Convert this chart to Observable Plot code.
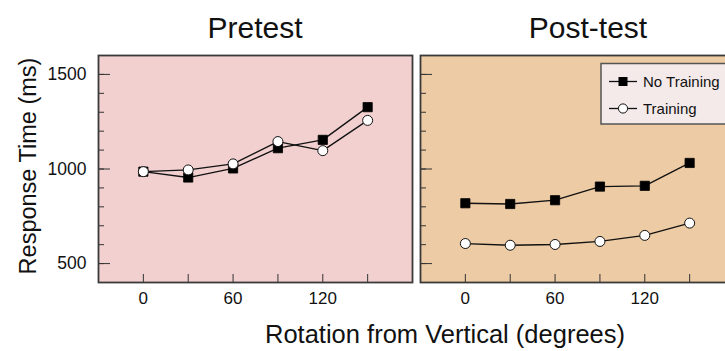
<!DOCTYPE html>
<html>
<head>
<meta charset="utf-8">
<script src="https://cdn.jsdelivr.net/npm/d3@7"></script>
<script src="https://cdn.jsdelivr.net/npm/@observablehq/plot@0.6"></script>
<style>
  html, body { margin: 0; padding: 0; background: #fff; overflow: hidden; }
  #wrap { position: relative; width: 725px; height: 351px; overflow: hidden; font-family: "Liberation Sans", Arial, Helvetica, sans-serif; }
  #wrap > * { position: absolute; top: 0; }
</style>
</head>
<body>
<div id="wrap"></div>
<script>
const angles = [0, 30, 60, 90, 120, 150];
const preNoTraining = [986, 955, 1003, 1110, 1154, 1327];
const preTraining = [986, 995, 1027, 1145, 1097, 1257];
const postNoTraining = [819, 815, 835, 907, 911, 1032];
const postTraining = [606, 597, 601, 617, 649, 714];
const panelTitles = ["Pretest", "Post-test"];
const seriesNames = ["No Training", "Training"];
const xTicks = [0, 30, 60, 90, 120, 150];
const xTickLabels = [0, 60, 120];
const yTickLabels = [500, 1000, 1500];
const yMinorTicks = d3.range(400, 1601, 100);
const xDomain = [-30, 180];
const yDomain = [400, 1600];
const xLabel = "Rotation from Vertical (degrees)";
const yLabel = "Response Time (ms)";

const FONT = '"Liberation Sans", Arial, Helvetica, sans-serif';
const innerW = 314, innerH = 227;

function panel(noTr, tr, bg, showY, left, width, mLeft, mRight) {
  const rowsNo = angles.map((a, i) => ({a, v: noTr[i]}));
  const rowsTr = angles.map((a, i) => ({a, v: tr[i]}));
  const marks = [
    Plot.frame({fill: bg, stroke: null}),
    Plot.tickY(yMinorTicks, {y: d => d, stroke: "#333", strokeWidth: 1, insetRight: innerW - 6}),
    Plot.tickY(yTickLabels, {y: d => d, stroke: "#333", strokeWidth: 1, insetRight: innerW - 12}),
    Plot.tickX(xTicks, {x: d => d, stroke: "#333", strokeWidth: 1, insetTop: innerH - 8}),
    Plot.line(rowsNo, {x: "a", y: "v", stroke: "#111", strokeWidth: 1.3}),
    Plot.line(rowsTr, {x: "a", y: "v", stroke: "#111", strokeWidth: 1.3}),
    Plot.dot(rowsNo, {x: "a", y: "v", symbol: "square", r: 5.2, fill: "#000", stroke: "#000", strokeWidth: 0.8}),
    Plot.dot(rowsTr, {x: "a", y: "v", symbol: "circle", r: 5, fill: "#fff", stroke: "#111", strokeWidth: 1}),
    Plot.frame({stroke: "#3a3a3a", strokeWidth: 1.8}),
    Plot.axisX(xTickLabels, {tickSize: 0, tickPadding: 9, fontSize: 17, label: null, fill: "#111", tickFormat: "d"})
  ];
  if (showY) marks.push(Plot.axisY(yTickLabels, {tickSize: 0, tickPadding: 12, fontSize: 17.5, label: null, fill: "#111", tickFormat: "d"}));
  const p = Plot.plot({
    width, height: 351,
    marginLeft: mLeft, marginRight: mRight, marginTop: 55, marginBottom: 69,
    x: {domain: xDomain, axis: null},
    y: {domain: yDomain, axis: null},
    style: {fontFamily: FONT, background: "transparent", overflow: "visible"},
    marks
  });
  p.style.left = left + "px";
  return p;
}

const wrap = document.getElementById("wrap");
wrap.appendChild(panel(preNoTraining, preTraining, "#f2d0d0", true, 0, 416, 98, 4));
wrap.appendChild(panel(postNoTraining, postTraining, "#edcba5", false, 416, 320, 4, 2));

// overlay with titles, axis labels and legend
const ns = "http://www.w3.org/2000/svg";
const ov = document.createElementNS(ns, "svg");
ov.setAttribute("width", 725); ov.setAttribute("height", 351);
ov.style.left = "0px"; ov.style.pointerEvents = "none"; ov.style.fontFamily = FONT;
function txt(str, x, y, size, anchor, rot) {
  const t = document.createElementNS(ns, "text");
  t.textContent = str;
  t.setAttribute("x", x); t.setAttribute("y", y);
  t.setAttribute("font-size", size); t.setAttribute("text-anchor", anchor || "middle");
  t.setAttribute("fill", "#111");
  if (rot) t.setAttribute("transform", `rotate(${rot} ${x} ${y})`);
  ov.appendChild(t);
}
txt(panelTitles[0], 255, 38, 30);
txt(panelTitles[1], 588, 38, 30);
txt(xLabel, 445, 343, 25.5);
txt(yLabel, 36, 166, 23.5, "middle", -90);

// legend
const lg = document.createElementNS(ns, "g");
lg.innerHTML = `
  <rect x="601" y="63.5" width="140" height="60.5" fill="#f4eaea" stroke="#555" stroke-width="1.5"/>
  <line x1="609" x2="637" y1="81.5" y2="81.5" stroke="#111" stroke-width="1.3"/>
  <rect x="618.5" y="77" width="9" height="9" fill="#000"/>
  <line x1="609" x2="637" y1="108.5" y2="108.5" stroke="#111" stroke-width="1.3"/>
  <circle cx="623" cy="108.5" r="4.6" fill="#fff" stroke="#111" stroke-width="1"/>`;
ov.appendChild(lg);
txt(seriesNames[0], 643, 87, 15, "start");
txt(seriesNames[1], 643, 114, 15, "start");
wrap.appendChild(ov);
</script>
</body>
</html>
